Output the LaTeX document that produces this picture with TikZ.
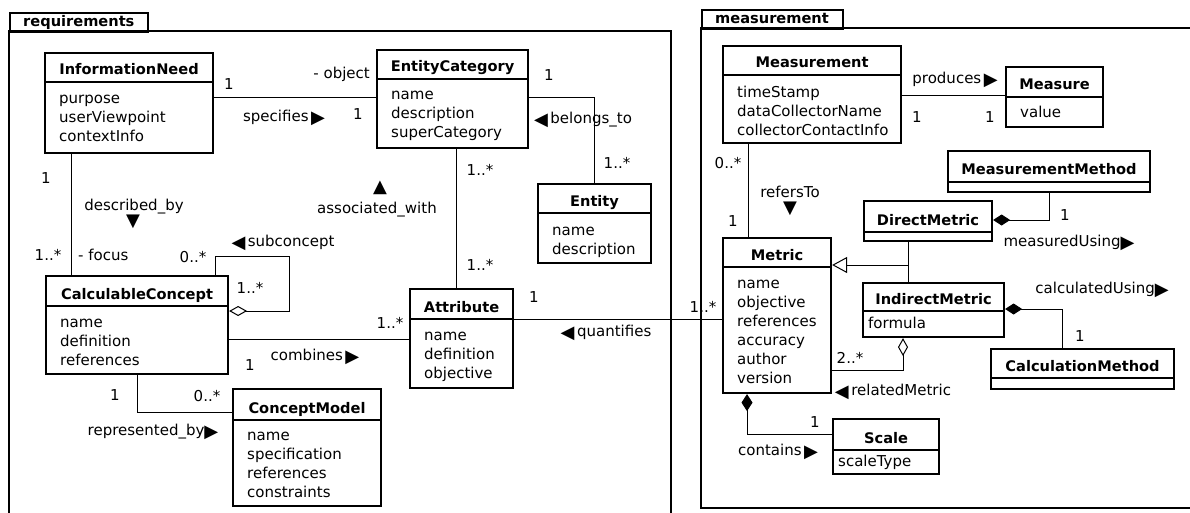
\documentclass[tikz,border=0pt]{standalone}
\usepackage{fontspec}
\setmainfont{DejaVu Sans}
\usetikzlibrary{arrows.meta,calc}
\def\attrx{15}
\newcommand\trisize{\fontsize{18}{18}\selectfont}
\newcommand\rtri{\raisebox{-1.5pt}{\trisize ▶}}
\newcommand\ltri{\raisebox{-1.5pt}{\trisize ◀}}
\newcommand\umlclass[9]{%
  \node[cls, minimum width=#4pt, minimum height=#5pt] (#1) at (#2,#3) {};
  \draw[divl] ($(#1.north west)+(0,#6)$) -- ($(#1.north east)+(0,#6)$);
  \node[ttl] (#1-t) at ($(#1.north)+(0,{#6-7})$) {#7};
  \foreach \a [count=\i] in {#8} {
    \node[attr] (#1-a\i) at ($(#1.north west)+(\attrx,{#6+#9+19*(\i-1)})$) {\a};
  }
}
\newcommand\umlempty[7]{%
  \node[cls, minimum width=#4pt, minimum height=#5pt] (#1) at (#2,#3) {};
  \draw[divl] ($(#1.north west)+(0,#6)$) -- ($(#1.north east)+(0,#6)$);
  \node[ttl] (#1-t) at ($(#1.north)+(0,{#6-7})$) {#7};
}
\begin{document}
\begin{tikzpicture}[x=1pt,y=-1pt,
  every node/.style={font=\fontsize{15}{19}\selectfont, inner sep=0pt},
  cls/.style={draw, line width=2.1pt, anchor=north west},
  divl/.style={line width=1.3pt},
  ttl/.style={font=\fontsize{14.6}{19}\selectfont\bfseries, anchor=base},
  attr/.style={anchor=base west},
  conn/.style={line width=1pt},
  odia/.style={conn, {Diamond[open,length=18pt,width=10pt,line width=1pt]}-},
  fdia/.style={conn, {Diamond[length=17pt,width=11pt]}-},
  gen/.style={conn, -{Triangle[open,length=15pt,width=16pt,line width=1pt]}},
  pkg/.style={line width=2pt},
  tabt/.style={font=\fontsize{14.6}{19}\selectfont\bfseries, anchor=base west},
]
\useasboundingbox[fill=white] (0,0) rectangle (1190,513);

% ---------- packages ----------
\node[draw, pkg, anchor=north west, minimum width=138pt, minimum height=19pt] (reqtab) at (9,12) {};
\node[tabt] (reqtab-t) at ($(reqtab.north west)+(14,15)$) {requirements};
\draw[pkg] (9,530) -- (9,31) -- (671,31) -- (671,530);

\node[draw, pkg, anchor=north west, minimum width=141pt, minimum height=19pt] (meastab) at (701,9) {};
\node[tabt] (meastab-t) at ($(meastab.north west)+(14,15)$) {measurement};
\draw[pkg] (1200,508) -- (701,508) -- (701,28) -- (1200,28);

% ---------- requirements classes ----------
\umlclass{IN}{44}{52}{168}{100}{30}{InformationNeed}{purpose,userViewpoint,contextInfo}{22}
\umlclass{EC}{376}{49}{151}{98}{30}{EntityCategory}{name,description,superCategory}{21}
\umlclass{EN}{537}{183}{113}{79}{30}{Entity}{name,description}{22}
\umlclass{AT}{409}{288}{103}{99}{31}{Attribute}{name,definition,objective}{21}
\umlclass{CC}{45}{275}{182}{98}{31}{CalculableConcept}{name,definition,references}{21}
\umlclass{CM}{232}{388}{148}{117}{32}{ConceptModel}{name,specification,references,constraints}{20}

% ---------- measurement classes ----------
\umlclass{MS}{722}{45}{178}{97}{30}{Measurement}{timeStamp,dataCollectorName,collectorContactInfo}{23}
\umlclass{ME}{1005}{66}{97}{60}{31}{Measure}{value}{21}
\umlempty{MM}{947}{150}{202}{41}{32}{MeasurementMethod}
\umlempty{DM}{863}{200}{128}{40}{32}{DirectMetric}
\umlclass{MT}{722}{237}{108}{155}{30}{Metric}{name,objective,references,accuracy,author,version}{21}
\def\attrx{6}
\umlclass{IM}{862}{282}{141}{54}{29}{IndirectMetric}{formula}{17}
\umlclass{SC}{832}{418}{106}{55}{32}{Scale}{scaleType}{16}
\def\attrx{15}
\umlempty{CL}{990}{348}{183}{40}{30}{CalculationMethod}

% ---------- connectors: requirements ----------
\draw[conn] ($(IN.north east)+(0,46)$) -- ($(EC.north west)+(0,49)$);
\draw[conn] ($(EC.north east)+(0,49)$) -| ($(EN.north west)+(57,0)$);
\draw[conn] ($(EC.south west)+(80,0)$) -- ($(AT.north west)+(47,0)$);
\draw[conn] ($(IN.south west)+(27,0)$) -- ($(CC.north west)+(26,0)$);
\coordinate (sc1) at (289,256);
\draw[odia] ($(CC.north east)+(0,36)$) -| (sc1) -| ($(CC.north west)+(170,0)$);
\draw[conn] ($(CC.north east)+(0,64)$) -- ($(AT.north west)+(0,51)$);
\draw[conn] ($(CC.south west)+(92,0)$) |- ($(CM.north west)+(0,24)$);
\draw[conn] ($(AT.north east)+(0,31)$) -- ($(MT.north west)+(0,82)$);

% ---------- connectors: measurement ----------
\draw[conn] ($(MS.north east)+(0,51)$) -- ($(ME.north west)+(0,30)$);
\draw[conn] ($(MS.south west)+(26,0)$) -- ($(MT.north west)+(26,0)$);
\draw[fdia] ($(DM.north east)+(0,20)$) -| ($(MM.south west)+(102,0)$);
\draw[conn] ($(DM.south west)+(45,0)$) -- ($(IM.north west)+(46,0)$);
\draw[gen] ($(DM.south west)+(45,0)$) |- ($(MT.north east)+(0,28)$);
\draw[fdia] ($(IM.north east)+(0,27)$) -| ($(CL.north west)+(72,0)$);
\draw[odia] ($(IM.south west)+(41,0)$) |- ($(MT.north east)+(0,133)$);
\draw[fdia] ($(MT.south west)+(25,0)$) |- ($(SC.north west)+(0,16)$);

% ---------- labels: requirements ----------
\node (l1) at (229,84) {1};
\node[anchor=east] (l2) at (370,74) {- object};
\node (l3) at (284,118) {specifies\,\rtri};
\node (l4) at (358,114) {1};
\node (l5) at (549,75) {1};
\node (l6) at (583,120) {\ltri\,belongs\_to};
\node (l7) at (617,163) {1..*};
\node (l8) at (480,170) {1..*};
\node (l9) at (480,265) {1..*};
\node (l10) at (380,188) {\trisize ▲};
\node (l11) at (377,210) {associated\_with};
\node (l12) at (46,178) {1};
\node (l13) at (134,207) {described\_by};
\node (l14) at (133,222) {\trisize ▼};
\node (l15) at (48,255) {1..*};
\node[anchor=west] (l16) at (78,255) {- focus};
\node (l17) at (193,257) {0..*};
\node (l18) at (250,288) {1..*};
\node (l19) at (283,243) {\ltri\,subconcept};
\node (l20) at (390,323) {1..*};
\node (l21) at (250,365) {1};
\node (l22) at (315,357) {combines\,\rtri};
\node (l23) at (115,395) {1};
\node (l24) at (207,396) {0..*};
\node (l25) at (153,432) {represented\_by\rtri};
\node (l26) at (534,297) {1};
\node (l27) at (606,333) {\ltri\,quantifies};
\node (l28) at (703,307) {1..*};

% ---------- labels: measurement ----------
\node (m1) at (955,80) {produces\,\rtri};
\node (m2) at (917,117) {1};
\node (m3) at (990,117) {1};
\node (m4) at (728,163) {0..*};
\node (m5) at (733,221) {1};
\node (m6) at (790,192) {refersTo};
\node (m7) at (790,209) {\trisize ▼};
\node (m8) at (1065,215) {1};
\node (m9) at (1069,243) {measuredUsing\rtri};
\node (m10) at (1102,290) {calculatedUsing\rtri};
\node (m11) at (1080,336) {1};
\node (m12) at (850,358) {2..*};
\node (m13) at (893,392) {\ltri\,relatedMetric};
\node (m14) at (815,422) {1};
\node (m15) at (778,452) {contains\,\rtri};
\end{tikzpicture}
\end{document}
